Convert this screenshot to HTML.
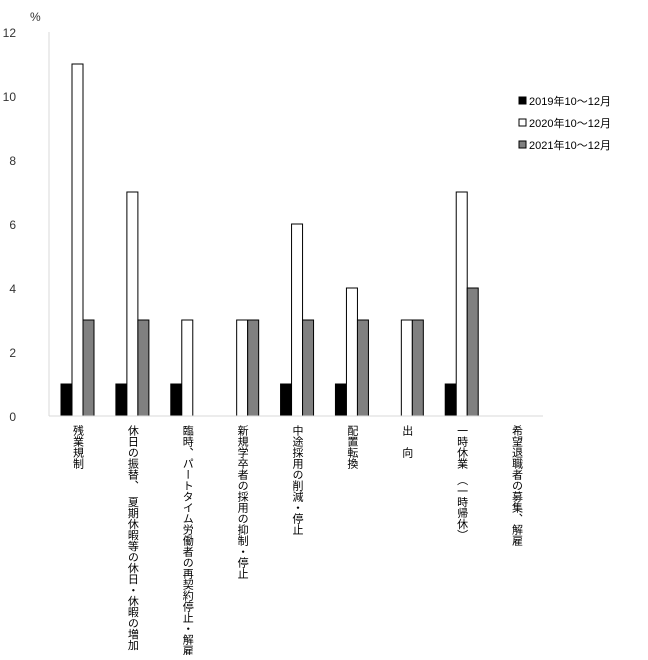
<!DOCTYPE html>
<html><head><meta charset="utf-8">
<style>
body{margin:0;background:#fff;}
svg text{font-family:"Liberation Sans","Noto Sans CJK JP",sans-serif;}
</style></head>
<body>
<svg id="chart" width="648" height="655" xmlns="http://www.w3.org/2000/svg">
<rect width="648" height="655" fill="#fff"/>
</svg>
<script>
const categories=["残業規制","休日の振替、　夏期休暇等の休日・休暇の増加","臨時、パートタイム労働者の再契約停止・解雇","新規学卒者の採用の抑制・停止","中途採用の削減・停止","配置転換","出　向","一時休業　（一時帰休）","希望退職者の募集、解雇"];
const series2019=[1,1,1,0,1,1,0,1,0];
const series2020=[11,7,3,3,6,4,3,7,0];
const series2021=[3,3,0,3,3,3,3,4,0];
const seriesNames=["2019年10～12月","2020年10～12月","2021年10～12月"];
const yTicks=[0,2,4,6,8,10,12];
const fills=["#000","#fff","#808080"];
const svg=document.getElementById('chart');
const NS="http://www.w3.org/2000/svg";
const x0=49,x1=543,y0=416,yTop=32,yMax=12;
const bw=(x1-x0)/categories.length;
function yScale(v){return y0-(v/yMax)*(y0-yTop);}
function xScale(i){return x0+i*bw;}
function mk(t,a){const e=document.createElementNS(NS,t);for(const k in a)e.setAttribute(k,a[k]);svg.appendChild(e);return e;}
// y ticks
yTicks.forEach(v=>{const t=mk('text',{x:16,y:yScale(v)+5,'text-anchor':'end','font-size':12,fill:'#333'});t.textContent=v;

});
const pct=mk('text',{x:30,y:21,'font-size':12,fill:'#333'});pct.textContent='%';


const ya=mk('line',{x1:x0,y1:yTop,x2:x0,y2:y0,stroke:'#d9d9d9','stroke-width':1});


const all=[series2019,series2020,series2021];
categories.forEach((c,i)=>{
  all.forEach((s,k)=>{
    const v=s[i]; if(!v)return;
    const r=mk('rect',{x:xScale(i)+12+k*11,y:yScale(v),width:11,height:y0-yScale(v),fill:fills[k],stroke:'#000','stroke-width':1});
    
    
  });
  const t=mk('text',{x:xScale(i)+bw/2+1,y:425,'font-size':11,fill:'#000','writing-mode':'vertical-rl',style:'writing-mode:vertical-rl;text-orientation:upright'});
  t.textContent=c;
  
  
});
const xa=mk('line',{x1:x0,y1:y0,x2:x1,y2:y0,stroke:'#d9d9d9','stroke-width':1});


seriesNames.forEach((n,k)=>{
  const y=101+k*22;
  const r=mk('rect',{x:519,y:y-4,width:7,height:7,fill:fills[k],stroke:'#000','stroke-width':1});
  
  
  const t=mk('text',{x:529,y:y+4,'font-size':11,fill:'#000'});t.textContent=n;
  
  
});
</script>
</body></html>
